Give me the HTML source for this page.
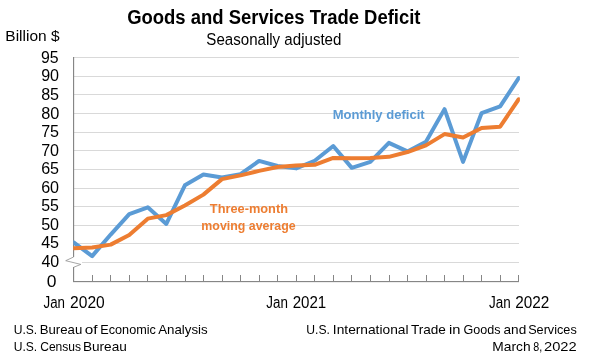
<!DOCTYPE html>
<html><head><meta charset="utf-8"><style>
html,body{margin:0;padding:0;background:#fff;}
svg{display:block;will-change:transform;}
text{font-family:"Liberation Sans", sans-serif;}
</style></head><body>
<svg width="595" height="362" viewBox="0 0 595 362">
<rect width="595" height="362" fill="#fff"/>
<rect x="74" y="57" width="445" height="1" fill="#D9D9D9"/>
<rect x="74" y="76" width="445" height="1" fill="#D9D9D9"/>
<rect x="74" y="94" width="445" height="1" fill="#D9D9D9"/>
<rect x="74" y="113" width="445" height="1" fill="#D9D9D9"/>
<rect x="74" y="132" width="445" height="1" fill="#D9D9D9"/>
<rect x="74" y="150" width="445" height="1" fill="#D9D9D9"/>
<rect x="74" y="169" width="445" height="1" fill="#D9D9D9"/>
<rect x="74" y="188" width="445" height="1" fill="#D9D9D9"/>
<rect x="74" y="206" width="445" height="1" fill="#D9D9D9"/>
<rect x="74" y="225" width="445" height="1" fill="#D9D9D9"/>
<rect x="74" y="243" width="445" height="1" fill="#D9D9D9"/>
<rect x="82" y="262" width="437" height="1" fill="#D9D9D9"/>
<rect x="92" y="275" width="1" height="6" fill="#868686"/>
<rect x="110" y="275" width="1" height="6" fill="#868686"/>
<rect x="129" y="275" width="1" height="6" fill="#868686"/>
<rect x="147" y="275" width="1" height="6" fill="#868686"/>
<rect x="166" y="275" width="1" height="6" fill="#868686"/>
<rect x="185" y="275" width="1" height="6" fill="#868686"/>
<rect x="203" y="275" width="1" height="6" fill="#868686"/>
<rect x="222" y="275" width="1" height="6" fill="#868686"/>
<rect x="240" y="275" width="1" height="6" fill="#868686"/>
<rect x="259" y="275" width="1" height="6" fill="#868686"/>
<rect x="277" y="275" width="1" height="6" fill="#868686"/>
<rect x="296" y="275" width="1" height="6" fill="#868686"/>
<rect x="314" y="275" width="1" height="6" fill="#868686"/>
<rect x="333" y="275" width="1" height="6" fill="#868686"/>
<rect x="351" y="275" width="1" height="6" fill="#868686"/>
<rect x="370" y="275" width="1" height="6" fill="#868686"/>
<rect x="389" y="275" width="1" height="6" fill="#868686"/>
<rect x="407" y="275" width="1" height="6" fill="#868686"/>
<rect x="426" y="275" width="1" height="6" fill="#868686"/>
<rect x="444" y="275" width="1" height="6" fill="#868686"/>
<rect x="463" y="275" width="1" height="6" fill="#868686"/>
<rect x="481" y="275" width="1" height="6" fill="#868686"/>
<rect x="500" y="275" width="1" height="6" fill="#868686"/>
<rect x="518" y="275" width="1" height="6" fill="#868686"/>
<rect x="73" y="57" width="1.15" height="200" fill="#868686"/>
<rect x="73" y="267" width="1.15" height="15" fill="#868686"/>
<rect x="73" y="281" width="446" height="1.15" fill="#868686"/>
<polyline points="73.6,257 65.7,260.7 80.8,264.4 73.6,267.3" fill="none" stroke="#8f8f8f" stroke-width="0.8"/>
<defs><clipPath id="pc"><rect x="73.25" y="0" width="446.65" height="362"/></clipPath></defs>
<g clip-path="url(#pc)">
<polyline points="73.60,242.37 92.15,256.16 110.69,234.54 129.24,214.04 147.78,207.33 166.33,223.92 184.88,185.34 203.42,174.53 221.97,177.52 240.51,174.16 259.06,160.93 277.60,165.96 296.15,168.38 314.70,160.74 333.24,146.02 351.79,167.83 370.33,161.86 388.88,142.85 407.43,151.43 425.97,141.73 444.52,109.12 463.06,161.86 481.61,113.04 500.15,106.33 518.70,78.00" fill="none" stroke="#5B9BD5" stroke-width="4" stroke-linejoin="round" stroke-linecap="round"/>
<polyline points="73.60,248.33 92.15,247.59 110.69,244.61 129.24,234.91 147.78,218.64 166.33,215.10 184.88,205.53 203.42,194.60 221.97,179.13 240.51,175.40 259.06,170.87 277.60,167.02 296.15,165.40 314.70,164.84 333.24,157.95 351.79,158.13 370.33,157.95 388.88,156.83 407.43,152.05 425.97,145.34 444.52,134.09 463.06,137.57 481.61,128.01 500.15,126.64 518.70,99.24" fill="none" stroke="#ED7D31" stroke-width="4" stroke-linejoin="round" stroke-linecap="round"/>
</g>
<text x="127.16" y="23.70" font-size="20.00" font-weight="bold" fill="#000" textLength="293.31" lengthAdjust="spacingAndGlyphs">Goods and Services Trade Deficit</text>
<text x="206.35" y="44.67" font-size="16.30" font-weight="normal" fill="#000" textLength="135.07" lengthAdjust="spacingAndGlyphs">Seasonally adjusted</text>
<text x="5.32" y="40.75" font-size="15.30" font-weight="normal" fill="#000" textLength="54.22" lengthAdjust="spacingAndGlyphs">Billion $</text>
<text x="41.01" y="62.85" font-size="15.60" font-weight="normal" fill="#000" textLength="17.67" lengthAdjust="spacingAndGlyphs">95</text>
<text x="41.16" y="81.41" font-size="15.60" font-weight="normal" fill="#000" textLength="17.93" lengthAdjust="spacingAndGlyphs">90</text>
<text x="41.16" y="99.97" font-size="15.60" font-weight="normal" fill="#000" textLength="17.93" lengthAdjust="spacingAndGlyphs">85</text>
<text x="41.15" y="118.53" font-size="15.60" font-weight="normal" fill="#000" textLength="18.14" lengthAdjust="spacingAndGlyphs">80</text>
<text x="41.16" y="137.09" font-size="15.60" font-weight="normal" fill="#000" textLength="17.93" lengthAdjust="spacingAndGlyphs">75</text>
<text x="41.16" y="155.65" font-size="15.60" font-weight="normal" fill="#000" textLength="17.93" lengthAdjust="spacingAndGlyphs">70</text>
<text x="41.16" y="174.21" font-size="15.60" font-weight="normal" fill="#000" textLength="17.93" lengthAdjust="spacingAndGlyphs">65</text>
<text x="41.16" y="192.77" font-size="15.60" font-weight="normal" fill="#000" textLength="17.93" lengthAdjust="spacingAndGlyphs">60</text>
<text x="41.16" y="211.33" font-size="15.60" font-weight="normal" fill="#000" textLength="17.71" lengthAdjust="spacingAndGlyphs">55</text>
<text x="41.16" y="229.89" font-size="15.60" font-weight="normal" fill="#000" textLength="17.93" lengthAdjust="spacingAndGlyphs">50</text>
<text x="41.16" y="248.45" font-size="15.60" font-weight="normal" fill="#000" textLength="17.93" lengthAdjust="spacingAndGlyphs">45</text>
<text x="41.48" y="267.01" font-size="15.60" font-weight="normal" fill="#000" textLength="17.80" lengthAdjust="spacingAndGlyphs">40</text>
<text x="46.70" y="287.00" font-size="15.60" font-weight="normal" fill="#000" textLength="9.73" lengthAdjust="spacingAndGlyphs">0</text>
<text x="43.53" y="307.80" font-size="15.60" font-weight="normal" fill="#000" textLength="21.50" lengthAdjust="spacingAndGlyphs">Jan</text>
<text x="70.12" y="307.80" font-size="15.60" font-weight="normal" fill="#000" textLength="34.68" lengthAdjust="spacingAndGlyphs">2020</text>
<text x="266.33" y="307.80" font-size="15.60" font-weight="normal" fill="#000" textLength="21.60" lengthAdjust="spacingAndGlyphs">Jan</text>
<text x="292.65" y="307.80" font-size="15.60" font-weight="normal" fill="#000" textLength="33.58" lengthAdjust="spacingAndGlyphs">2021</text>
<text x="489.03" y="307.80" font-size="15.60" font-weight="normal" fill="#000" textLength="21.71" lengthAdjust="spacingAndGlyphs">Jan</text>
<text x="515.13" y="307.80" font-size="15.60" font-weight="normal" fill="#000" textLength="34.10" lengthAdjust="spacingAndGlyphs">2022</text>
<text x="332.69" y="118.80" font-size="12.80" font-weight="bold" fill="#5B9BD5" textLength="91.91" lengthAdjust="spacingAndGlyphs">Monthly deficit</text>
<text x="209.82" y="212.90" font-size="12.80" font-weight="bold" fill="#ED7D31" textLength="78.16" lengthAdjust="spacingAndGlyphs">Three-month</text>
<text x="201.33" y="229.60" font-size="12.80" font-weight="bold" fill="#ED7D31" textLength="94.29" lengthAdjust="spacingAndGlyphs">moving average</text>
<text x="13.73" y="333.90" font-size="13.00" font-weight="normal" fill="#000" textLength="23.51" lengthAdjust="spacingAndGlyphs">U.S.</text>
<text x="39.75" y="333.90" font-size="13.00" font-weight="normal" fill="#000" textLength="42.51" lengthAdjust="spacingAndGlyphs">Bureau</text>
<text x="84.69" y="333.90" font-size="13.00" font-weight="normal" fill="#000" textLength="12.77" lengthAdjust="spacingAndGlyphs">of</text>
<text x="100.29" y="333.90" font-size="13.00" font-weight="normal" fill="#000" textLength="55.60" lengthAdjust="spacingAndGlyphs">Economic</text>
<text x="158.20" y="333.90" font-size="13.00" font-weight="normal" fill="#000" textLength="49.55" lengthAdjust="spacingAndGlyphs">Analysis</text>
<text x="13.73" y="350.80" font-size="13.00" font-weight="normal" fill="#000" textLength="23.51" lengthAdjust="spacingAndGlyphs">U.S.</text>
<text x="40.20" y="350.80" font-size="13.00" font-weight="normal" fill="#000" textLength="40.89" lengthAdjust="spacingAndGlyphs">Census</text>
<text x="82.91" y="350.80" font-size="13.00" font-weight="normal" fill="#000" textLength="43.87" lengthAdjust="spacingAndGlyphs">Bureau</text>
<text x="306.33" y="333.90" font-size="13.00" font-weight="normal" fill="#000" textLength="23.62" lengthAdjust="spacingAndGlyphs">U.S.</text>
<text x="332.86" y="333.90" font-size="13.00" font-weight="normal" fill="#000" textLength="75.61" lengthAdjust="spacingAndGlyphs">International</text>
<text x="410.93" y="333.90" font-size="13.00" font-weight="normal" fill="#000" textLength="34.99" lengthAdjust="spacingAndGlyphs">Trade</text>
<text x="448.97" y="333.90" font-size="13.00" font-weight="normal" fill="#000" textLength="11.43" lengthAdjust="spacingAndGlyphs">in</text>
<text x="463.47" y="333.90" font-size="13.00" font-weight="normal" fill="#000" textLength="36.98" lengthAdjust="spacingAndGlyphs">Goods</text>
<text x="503.56" y="333.90" font-size="13.00" font-weight="normal" fill="#000" textLength="22.68" lengthAdjust="spacingAndGlyphs">and</text>
<text x="528.17" y="333.90" font-size="13.00" font-weight="normal" fill="#000" textLength="48.57" lengthAdjust="spacingAndGlyphs">Services</text>
<text x="492.30" y="350.80" font-size="13.00" font-weight="normal" fill="#000" textLength="38.24" lengthAdjust="spacingAndGlyphs">March</text>
<text x="533.37" y="350.80" font-size="13.00" font-weight="normal" fill="#000" textLength="8.94" lengthAdjust="spacingAndGlyphs">8,</text>
<text x="543.97" y="350.80" font-size="13.00" font-weight="normal" fill="#000" textLength="32.64" lengthAdjust="spacingAndGlyphs">2022</text>
</svg>
</body></html>
